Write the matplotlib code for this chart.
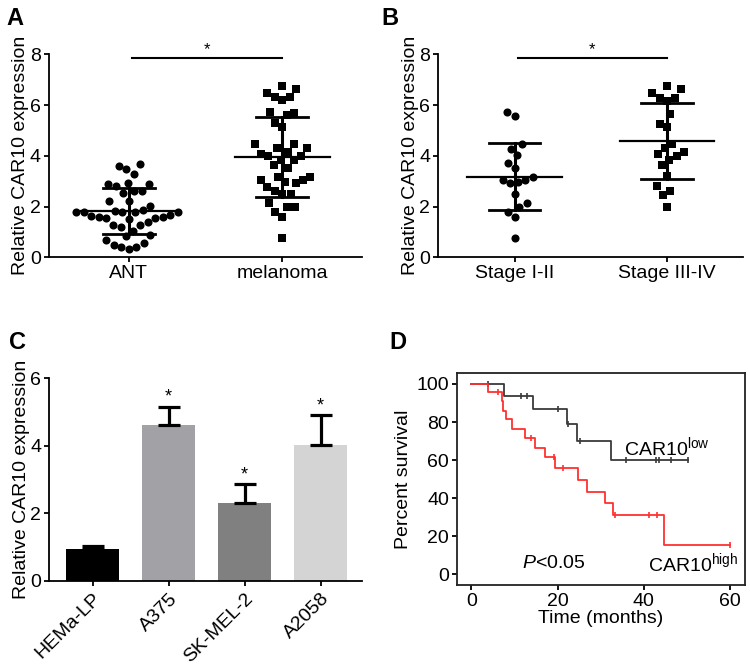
import numpy as np
import matplotlib
matplotlib.use('Agg')
import matplotlib.pyplot as plt

plt.rcParams['font.family'] = ['Liberation Sans', 'DejaVu Sans']
plt.rcParams['mathtext.fontset'] = 'custom'
plt.rcParams['mathtext.rm'] = 'Liberation Sans'
plt.rcParams['mathtext.it'] = 'Liberation Sans:italic'

# ---------------- data ----------------
groups_A = ['ANT', 'melanoma']
ant = [3.68, 3.47, 3.29, 3.60,
       2.94, 2.88, 2.82, 2.88,
       2.60, 2.55, 2.60,
       2.22, 2.22,
       2.02,
       1.87, 1.80, 1.78, 1.78, 1.78, 1.80, 1.84,
       1.67, 1.58, 1.50, 1.54, 1.54, 1.58, 1.63,
       1.27, 1.21, 1.40, 1.26,
       1.05, 0.87, 0.84,
       0.58, 0.68,
       0.39, 0.32, 0.39, 0.49]
melanoma = [6.75, 6.62, 6.49, 6.31, 6.31, 6.20,
            5.68, 5.72, 5.60, 5.28, 5.15,
            4.47, 4.47, 4.30, 4.30, 4.17, 4.07, 4.00, 3.99,
            3.84, 3.84, 3.64, 3.51,
            3.18, 3.18, 3.05, 3.05, 2.98, 2.92, 2.79, 2.63,
            2.48, 2.48, 2.13, 2.00, 2.00, 1.80, 1.58, 0.75]

groups_B = ['Stage I-II', 'Stage III-IV']
stage12 = [5.74, 5.57, 4.47, 4.27, 4.02, 3.73, 3.51, 3.18, 3.05, 3.05,
           2.98, 2.92, 2.48, 2.16, 2.00, 1.80, 1.58, 0.75]
stage34 = [6.75, 6.62, 6.47, 6.29, 6.29, 6.18, 5.64, 5.26, 5.12,
           4.47, 4.30, 4.17, 4.00, 4.07, 3.84, 3.64,
           3.21, 2.81, 2.63, 2.46, 2.00]

cell_lines = ['HEMa-LP', 'A375', 'SK-MEL-2', 'A2058']
cell_means = [0.94, 4.60, 2.29, 4.03]
cell_err = [0.09, 0.56, 0.57, 0.87]
cell_colors = ['#000000', '#a2a2a6', '#808080', '#d4d4d4']
cell_sig = ['', '*', '*', '*']

km_low_t = [0, 7.6, 14.2, 22.1, 24.5, 32.4, 50.3]
km_low_s = [100, 93.8, 86.6, 78.8, 70.0, 60.0, 60.0]
km_low_cens = [3.9, 11.4, 12.9, 20.0, 22.5, 25.2, 35.8, 42.8, 43.6, 46.3, 50.3]

km_high_t = [0, 3.9, 7.0, 7.4, 8.0, 9.3, 12.4, 14.7, 17.0, 19.4, 24.8,
             26.9, 31.0, 32.8, 44.7, 60.0]
km_high_s = [100, 95.6, 91.0, 86.0, 81.4, 76.5, 71.5, 66.5, 61.5, 56.0,
             49.7, 43.4, 37.3, 31.0, 15.6, 15.6]
km_high_cens = [6.2, 13.9, 19.2, 21.2, 33.4, 41.3, 43.0, 60.0]


# ---------------- helpers ----------------
def swarm(values, xscale, yscale, dx_min, dy_min):
    """Beeswarm offsets (elliptical collision), returned in data x units."""
    v = np.asarray(values, dtype=float)
    order = np.argsort(v)
    ys = v * yscale * (dx_min / dy_min)
    d = dx_min
    placed = []
    offs = np.zeros(len(v))
    for i in order:
        y = ys[i]
        near = [(px, py) for px, py in placed if abs(py - y) < d]
        cands = [0.0]
        for px, py in near:
            dx = np.sqrt(d * d - (py - y) ** 2)
            cands += [px + dx, px - dx]
        cands = sorted(cands, key=lambda c: (abs(c), c))
        chosen = cands[-1]
        for c in cands:
            if all((c - px) ** 2 + (y - py) ** 2 >= d * d - 1e-6 for px, py in near):
                chosen = c
                break
        placed.append((chosen, y))
        offs[i] = chosen / xscale
    return offs


def style_axes(ax):
    for s in ['top', 'right']:
        ax.spines[s].set_visible(False)
    for s in ['left', 'bottom']:
        ax.spines[s].set_linewidth(1.3)
    ax.tick_params(direction='out', length=3.8, width=1.3, labelsize=14, pad=2)


def scatter_panel(ax, datasets, labels, markers, sizes):
    xscale = 152.0
    yscale = 25.4
    for pos, (vals, mk, sz) in enumerate(zip(datasets, markers, sizes)):
        offs = swarm(vals, xscale, yscale, 7.6, 14.0)
        ax.scatter(pos + offs, vals, marker=mk, s=sz, color='black',
                   linewidths=0, zorder=3)
        m = np.mean(vals)
        sd = np.std(vals, ddof=1)
        ax.plot([pos - 0.31, pos + 0.31], [m, m], color='black', lw=1.6, zorder=4)
        ax.plot([pos, pos], [m - sd, m + sd], color='black', lw=2.2, zorder=4)
        for yy in (m - sd, m + sd):
            ax.plot([pos - 0.17, pos + 0.17], [yy, yy], color='black', lw=2.0, zorder=4)
    ax.set_xlim(-0.52, 1.52)
    ax.set_ylim(0, 8)
    ax.set_yticks([0, 2, 4, 6, 8])
    ax.set_xticks([0, 1])
    ax.set_xticklabels(labels)
    ax.tick_params(axis='x', pad=4)
    ax.set_ylabel('Relative CAR10 expression', fontsize=14, labelpad=0.5)
    style_axes(ax)
    ax.plot([0.02, 1.0], [7.84, 7.84], color='black', lw=1.5, clip_on=False)
    ax.text(0.51, 7.9, '*', ha='center', va='bottom', fontsize=12)


fig = plt.figure(figsize=(7.5, 6.67), dpi=100)

# Panel A
axA = fig.add_axes([0.0653, 0.6142, 0.4173, 0.3043])
scatter_panel(axA, [ant, melanoma], groups_A, ['o', 's'], [34, 30])

# Panel B
axB = fig.add_axes([0.5844, 0.6142, 0.4067, 0.3043])
scatter_panel(axB, [stage12, stage34], groups_B, ['o', 's'], [34, 30])
axB.set_xlim(-0.5, 1.5)

# Panel C
axC = fig.add_axes([0.0657, 0.1294, 0.4165, 0.3035])
xc = np.arange(len(cell_lines))
axC.bar(xc, cell_means, width=0.7, color=cell_colors, zorder=2)
axC.errorbar(xc, cell_means, yerr=[np.zeros(len(xc)), cell_err], fmt='none',
             ecolor='black', elinewidth=2.3, capsize=8, capthick=2.3, zorder=3)
for xi, m, e, s in zip(xc, cell_means, cell_err, cell_sig):
    if s:
        axC.text(xi, m + e + 0.02, s, ha='center', va='bottom', fontsize=13)
axC.set_xlim(-0.57, 3.54)
axC.set_ylim(0, 6)
axC.set_yticks([0, 2, 4, 6])
axC.set_xticks(xc)
axC.set_xticklabels(cell_lines, rotation=45, ha='right', va='top',
                    rotation_mode='anchor', fontsize=14.5)
axC.set_ylabel('Relative CAR10 expression', fontsize=14, labelpad=0.5)
style_axes(axC)
axC.tick_params(axis='x', pad=3)

# Panel D
axD = fig.add_axes([0.6097, 0.1229, 0.3836, 0.3174])
low_col = '#3a3a3a'
high_col = '#ff3030'
axD.step(km_low_t, km_low_s, where='post', color=low_col, lw=1.3, zorder=3)
axD.step(km_high_t, km_high_s, where='post', color=high_col, lw=1.3, zorder=4)


def surv_at(t, times, surv):
    idx = np.searchsorted(times, t, side='right') - 1
    return np.asarray(surv)[idx]


axD.plot(km_low_cens, surv_at(km_low_cens, km_low_t, km_low_s), linestyle='none',
         marker='|', markersize=4, mew=1.2, color=low_col, zorder=3)
axD.plot(km_high_cens, surv_at(km_high_cens, km_high_t, km_high_s), linestyle='none',
         marker='|', markersize=4, mew=1.2, color=high_col, zorder=4)
axD.set_xlim(-3.3, 63.5)
axD.set_ylim(-5.6, 105.6)
axD.set_xticks([0, 20, 40, 60])
axD.set_yticks([0, 20, 40, 60, 80, 100])
for s in axD.spines.values():
    s.set_linewidth(1.3)
    s.set_color('#222222')
axD.tick_params(direction='out', length=3.8, width=1.3, labelsize=14, pad=2)
axD.set_xlabel('Time (months)', fontsize=14, labelpad=0)
axD.set_ylabel('Percent survival', fontsize=14, labelpad=3)
axD.text(35.5, 67, r'CAR10$^{\mathrm{low}}$', fontsize=14, va='center', ha='left')
axD.text(41.0, 5.8, r'CAR10$^{\mathrm{high}}$', fontsize=14, va='center', ha='left')
axD.text(11.8, 5.8, r'$P$<0.05', fontsize=14, va='center', ha='left')

# panel letters
for lab, x, y in [('A', 0.008, 0.99), ('B', 0.509, 0.99),
                  ('C', 0.012, 0.503), ('D', 0.519, 0.503)]:
    fig.text(x, y, lab, fontsize=17, fontweight='bold', va='top', ha='left')

fig.savefig('out.png', dpi=100)
